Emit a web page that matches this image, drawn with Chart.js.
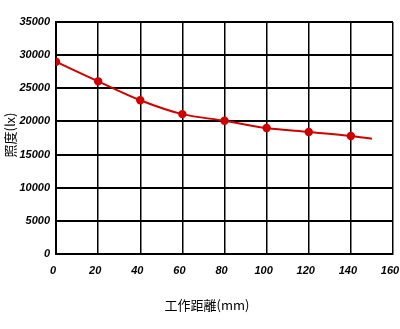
<!DOCTYPE html>
<html>
<head>
<meta charset="utf-8">
<script src="https://cdn.jsdelivr.net/npm/chart.js@4"></script>
<style>
  html, body { margin: 0; padding: 0; background: #fff; }
  #wrap { width: 400px; height: 329px; }
</style>
</head>
<body>
<div id="wrap"><canvas id="chart"></canvas></div>
<script>
// distance (mm) vs illuminance (lx)
const distances = [0, 20, 40, 60, 80, 100, 120, 140, 150]
const illuminance = [29000, 26050, 23200, 21100, 20100, 19000, 18400, 17800, 17400]
const xTicks = [0, 20, 40, 60, 80, 100, 120, 140, 160]
const yTicks = [0, 5000, 10000, 15000, 20000, 25000, 30000, 35000]
const xTitle = '工作距離(mm)'
const yTitle = '照度(lx)'

const tickFont = { family: '"Liberation Sans", Arial, sans-serif', size: 11, weight: 'bold', style: 'italic' }
const cjkFamily = '"Noto Sans CJK JP", "Noto Sans CJK TC", sans-serif'

const points = distances.map(function(d, i) { return { x: d, y: illuminance[i] } })

// axis titles sit off-centre in the original, so draw them by hand
const axisTitles = {
  id: 'axisTitles',
  afterDraw: function(chart) {
    const ctx = chart.ctx
    ctx.save()
    ctx.fillStyle = '#000'
    ctx.textAlign = 'center'
    ctx.textBaseline = 'middle'
    ctx.font = '13px ' + cjkFamily
    ctx.fillText(xTitle, 207, 305)
    ctx.translate(10, 135)
    ctx.rotate(-Math.PI / 2)
    ctx.fillText(yTitle, 0, 0)
    ctx.restore()
  }
}

new Chart(document.getElementById('chart'), {
  type: 'line',
  data: {
    datasets: [{
      data: points,
      borderColor: '#d00000',
      backgroundColor: '#d00000',
      borderWidth: 2,
      cubicInterpolationMode: 'monotone',
      // last point only continues the curve, no marker
      pointRadius: function(ctx) { return ctx.dataIndex === points.length - 1 ? 0 : 3.2 },
      pointHoverRadius: 0
    }]
  },
  plugins: [axisTitles],
  options: {
    responsive: true,
    maintainAspectRatio: false,
    animation: false,
    layout: { padding: { top: 22, right: 0, bottom: 18, left: 6 } },
    plugins: { legend: { display: false }, tooltip: { enabled: false } },
    scales: {
      x: {
        type: 'linear',
        min: 0,
        max: 160,
        afterBuildTicks: function(scale) { scale.ticks = xTicks.map(function(v) { return { value: v } }) },
        afterFit: function(scale) { scale.height = 57; scale.paddingRight = 7 },
        grid: { color: '#000', lineWidth: 1.5, drawTicks: false },
        border: { color: '#000', width: 2 },
        ticks: { color: '#000', font: tickFont, padding: 10, maxRotation: 0, labelOffset: -3 }
      },
      y: {
        min: 0,
        max: 35000,
        afterBuildTicks: function(scale) { scale.ticks = yTicks.map(function(v) { return { value: v } }) },
        afterFit: function(scale) { scale.width = 50 },
        grid: { color: '#000', lineWidth: 2, drawTicks: false },
        border: { color: '#000', width: 2 },
        ticks: { color: '#000', font: tickFont, padding: 6, callback: function(v) { return String(v) } }
      }
    }
  }
})
</script>
</body>
</html>
